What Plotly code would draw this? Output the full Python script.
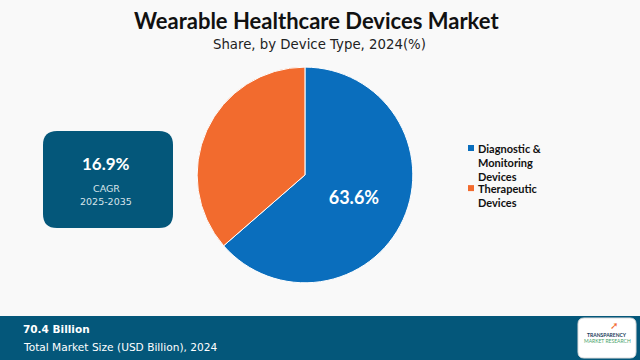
import plotly.graph_objects as go

categories = ["Diagnostic &<br>Monitoring<br>Devices", "Therapeutic<br>Devices"]
legend_lines = [["Diagnostic &", "Monitoring", "Devices"], ["Therapeutic", "Devices"]]
shares = [63.6, 36.4]
slice_labels = ["63.6%", ""]
colors = ["#0a6ebd", "#f26b2e"]
cagr = "16.9%"
cagr_period = "2025-2035"
market_size = "70.4 Billion"

BG = "#f9f9f9"
DARK = "#04577a"

fig = go.Figure()
fig.add_trace(go.Pie(
    labels=categories, values=shares, text=slice_labels, textinfo="text",
    texttemplate="%{text}", textposition="inside",
    insidetextfont=dict(family="Lato", size=18, color="white", weight="bold"),
    marker=dict(colors=colors, line=dict(color="white", width=1)),
    sort=False, direction="clockwise", rotation=0,
    domain=dict(x=[0.308, 0.645], y=[0.214, 0.814]),
    hoverinfo="label+percent", showlegend=False,
))
fig.add_trace(go.Scatter(x=[0, 640], y=[0, 360], mode="markers",
                         marker=dict(opacity=0), showlegend=False, hoverinfo="skip"))

def rrect(x0, y0, x1, y1, r):
    return (f"M{x0+r},{y0} L{x1-r},{y0} Q{x1},{y0} {x1},{y0+r} L{x1},{y1-r} "
            f"Q{x1},{y1} {x1-r},{y1} L{x0+r},{y1} Q{x0},{y1} {x0},{y1-r} "
            f"L{x0},{y0+r} Q{x0},{y0} {x0+r},{y0} Z")

shapes = [
    dict(type="path", path=rrect(43, 131, 173, 228, 14), fillcolor=DARK,
         line=dict(width=0), xref="x", yref="y", layer="below"),
    dict(type="rect", x0=0, x1=640, y0=316, y1=360, fillcolor=DARK,
         line=dict(width=0), xref="x", yref="y", layer="below"),
    dict(type="path", path=rrect(578, 318, 636, 358, 6), fillcolor="white",
         line=dict(color="#dddddd", width=1), xref="x", yref="y"),
]

ann = [
    dict(x=316, y=20, text="<b>Wearable Healthcare Devices Market</b>",
         font=dict(family="Lato", size=22, color="#111111")),
    dict(x=319, y=44, text="Share, by Device Type, 2024(%)",
         font=dict(family="DejaVu Sans", size=13.3, color="#222222")),
    dict(x=106, y=163, text=f"<b>{cagr}</b>",
         font=dict(family="Lato", size=17, color="white")),
    dict(x=106, y=188, text="CAGR", font=dict(family="DejaVu Sans", size=9.5, color="#d8e4ea")),
    dict(x=106, y=201, text=cagr_period, font=dict(family="DejaVu Sans", size=9.5, color="#d8e4ea")),
    dict(x=21, y=329, text=f"<b>{market_size}</b>", xanchor="left",
         font=dict(family="DejaVu Sans", size=10.5, color="white")),
    dict(x=21, y=347, text="Total Market Size (USD Billion), 2024", xanchor="left",
         font=dict(family="DejaVu Sans", size=10.6, color="white")),
    dict(x=607, y=335, text="<b>TRANSPARENCY</b>",
         font=dict(family="Lato", size=5, color="#1a3c5a")),
    dict(x=607, y=341, text="MARKET RESEARCH",
         font=dict(family="Lato", size=5, color="#4aa36b")),
    dict(x=614, y=325, text="➚", font=dict(size=10, color="#f26b2e")),
]

line_y = 148
step = 14.2
for color, lines in zip(colors, legend_lines):
    shapes.append(dict(type="rect", x0=468, x1=474, y0=line_y - 3, y1=line_y + 3,
                       fillcolor=color, line=dict(width=0), xref="x", yref="y"))
    for ln in lines:
        ann.append(dict(x=476, y=line_y, text=f"<b>{ln}</b>", xanchor="left",
                        font=dict(family="Lato", size=11, color="#111111")))
        line_y += step
    line_y -= 2.5

for a in ann:
    a.setdefault("xanchor", "center")
    a.update(xref="x", yref="y", showarrow=False, yanchor="middle")

fig.update_layout(
    width=640, height=360, margin=dict(l=0, r=0, t=0, b=0),
    paper_bgcolor=BG, plot_bgcolor=BG,
    xaxis=dict(range=[0, 640], visible=False, fixedrange=True),
    yaxis=dict(range=[360, 0], visible=False, fixedrange=True),
    shapes=shapes, annotations=ann, showlegend=False,
)
fig.write_html("out.html", config={"displayModeBar": False},
               post_script="document.body.style.margin='0px';")
